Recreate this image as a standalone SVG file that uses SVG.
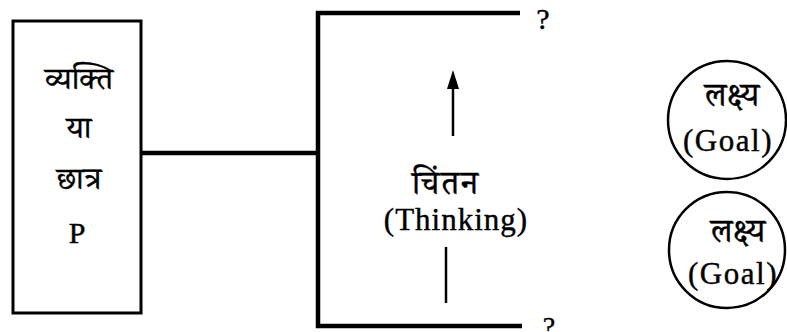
<svg xmlns="http://www.w3.org/2000/svg" width="787" height="332" viewBox="0 0 787 332">
<style>
.t{font-family:"Liberation Serif","Noto Serif Devanagari","Noto Sans Devanagari","Noto Sans",serif;fill:#000;stroke:#000;stroke-width:0.4;text-anchor:middle}
.line{stroke:#000;fill:none}
.ring{fill:none;stroke:#000;stroke-width:2.5}
</style>
<rect width="787" height="332" fill="#fff"/>
<g id="person">
<rect x="13" y="21" width="128" height="292" fill="#fff" stroke="#000" stroke-width="3"/>
<text class="t" x="79" y="89" font-size="31">व्यक्ति</text>
<text class="t" x="79" y="138" font-size="31">या</text>
<text class="t" x="79" y="189" font-size="31">छात्र</text>
<text class="t" x="77" y="243" font-size="30">P</text>
</g>
<g id="connectors">
<path class="line" stroke-width="4.5" d="M141,153 H318"/>
<path class="line" stroke-width="4.5" d="M520,13 H318 V326 H522"/>
<path class="line" stroke-width="2.5" d="M453,136 V86"/>
<path class="line" stroke-width="2.5" d="M446,247 V303"/>
<path d="M447,89 L453,70 L459,89 Z" fill="#000"/>
</g>
<g id="thinking">
<text class="t" x="446" y="194" font-size="33" letter-spacing="2">चिंतन</text>
<text class="t" x="456" y="230" font-size="31" letter-spacing="1">(Thinking)</text>
</g>
<g id="q1"><text class="t" x="543" y="29" font-size="30">?</text></g>
<g id="q2"><text class="t" x="549" y="336" font-size="28">?</text></g>
<g id="goal1">
<circle class="ring" cx="727" cy="120" r="59"/>
<text class="t" x="732" y="106" font-size="33">लक्ष्य</text>
<text class="t" x="728" y="151" font-size="31" letter-spacing="1.5">(Goal)</text>
</g>
<g id="goal2">
<circle class="ring" cx="727" cy="250" r="58"/>
<text class="t" x="738" y="242" font-size="33">लक्ष्य</text>
<text class="t" x="733" y="284" font-size="31" letter-spacing="1.5">(Goal)</text>
</g>
</svg>
